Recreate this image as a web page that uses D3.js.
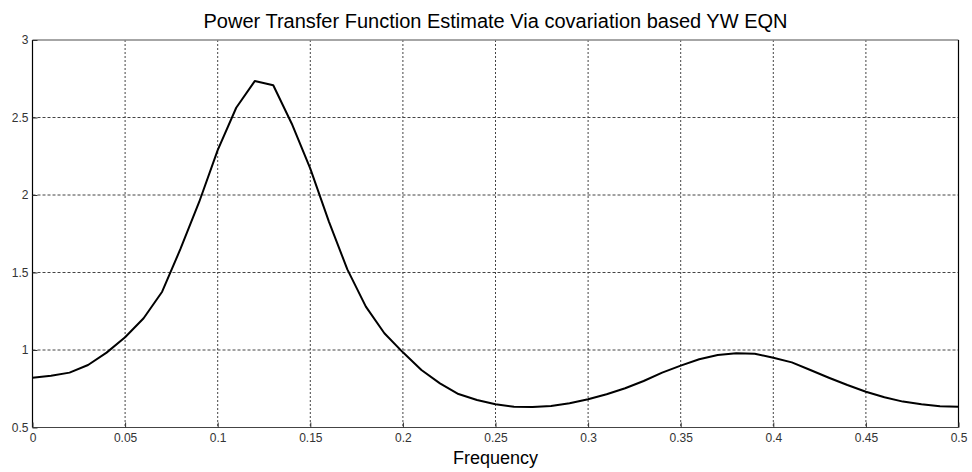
<!DOCTYPE html>
<html><head><meta charset="utf-8">
<script src="https://cdn.jsdelivr.net/npm/d3@7"></script>
<style>body{margin:0;background:#fff;} svg{display:block;font-family:"Liberation Sans",Arial,sans-serif;}</style>
</head><body>
<svg id="c" width="972" height="472"></svg>
<script>
const freq = d3.range(0, 51).map(i => +(i * 0.01).toFixed(2));
const power = [0.821,0.834,0.854,0.903,0.983,1.082,1.205,1.376,1.655,1.955,2.29,
  2.563,2.735,2.708,2.46,2.17,1.83,1.52,1.28,1.108,0.985,
  0.871,0.785,0.716,0.677,0.65,0.634,0.632,0.639,0.656,0.682,
  0.715,0.753,0.80,0.854,0.899,0.94,0.968,0.979,0.976,0.95,
  0.92,0.871,0.821,0.774,0.731,0.695,0.667,0.65,0.637,0.634];
const xTicks = [0,0.05,0.1,0.15,0.2,0.25,0.3,0.35,0.4,0.45,0.5];
const yTicks = [0.5,1,1.5,2,2.5,3];
const title = "Power Transfer Function Estimate Via covariation based YW EQN";
const xLabel = "Frequency";

const L=32.5, R=958.5, T=40, B=427.5;
const svg = d3.select("#c");
const x = d3.scaleLinear().domain([0,0.5]).range([L,R]);
const y = d3.scaleLinear().domain([0.5,3]).range([B,T]);

// grid
svg.append("g").selectAll("line").data(xTicks.slice(1,-1)).join("line")
  .attr("x1",d=>x(d)).attr("x2",d=>x(d)).attr("y1",T).attr("y2",B)
  .attr("stroke","#444").attr("stroke-width",1).attr("stroke-dasharray","2,2");
svg.append("g").selectAll("line").data(yTicks.slice(1,-1)).join("line")
  .attr("y1",d=>y(d)).attr("y2",d=>y(d)).attr("x1",L).attr("x2",R)
  .attr("stroke","#444").attr("stroke-width",1).attr("stroke-dasharray","3,2");

// axes frame
svg.append("line").attr("x1",L).attr("x2",R).attr("y1",T).attr("y2",T).attr("stroke","#888").attr("stroke-width",1.5);
svg.append("line").attr("x1",R).attr("x2",R).attr("y1",T).attr("y2",B).attr("stroke","#000").attr("stroke-width",1.2);
svg.append("line").attr("x1",L).attr("x2",L).attr("y1",T).attr("y2",B).attr("stroke","#000").attr("stroke-width",1.2);
svg.append("line").attr("x1",L).attr("x2",R).attr("y1",B).attr("y2",B).attr("stroke","#444").attr("stroke-width",1.2);

// axes via d3 with inward ticks
const xAxis = svg.append("g").attr("transform",`translate(0,${B})`)
  .call(d3.axisBottom(x).tickValues(xTicks).tickFormat(d3.format("~g")).tickSize(-5).tickPadding(6));
const yAxis = svg.append("g").attr("transform",`translate(${L},0)`)
  .call(d3.axisLeft(y).tickValues(yTicks).tickFormat(d3.format("~g")).tickSize(-5).tickPadding(4));
[xAxis,yAxis].forEach(a=>{
  a.select(".domain").remove();
  a.selectAll(".tick line").attr("stroke","#333");
  a.selectAll(".tick text").attr("fill","#333").attr("font-size",12)
   .attr("font-family","'Liberation Sans',Arial,sans-serif");
});
yAxis.selectAll(".tick text").attr("dy","0.32em");

// curve
svg.append("path").datum(freq.map((f,i)=>[f,power[i]]))
  .attr("d", d3.line().x(d=>x(d[0])).y(d=>y(d[1])))
  .attr("fill","none").attr("stroke","#000").attr("stroke-width",2).attr("stroke-linejoin","round");

svg.append("text").attr("x",(L+R)/2).attr("y",28).attr("text-anchor","middle")
  .attr("font-size",20).attr("fill","#000").text(title);
svg.append("text").attr("x",(L+R)/2).attr("y",464).attr("text-anchor","middle")
  .attr("font-size",18).attr("fill","#000").text(xLabel);
</script>
</body></html>
